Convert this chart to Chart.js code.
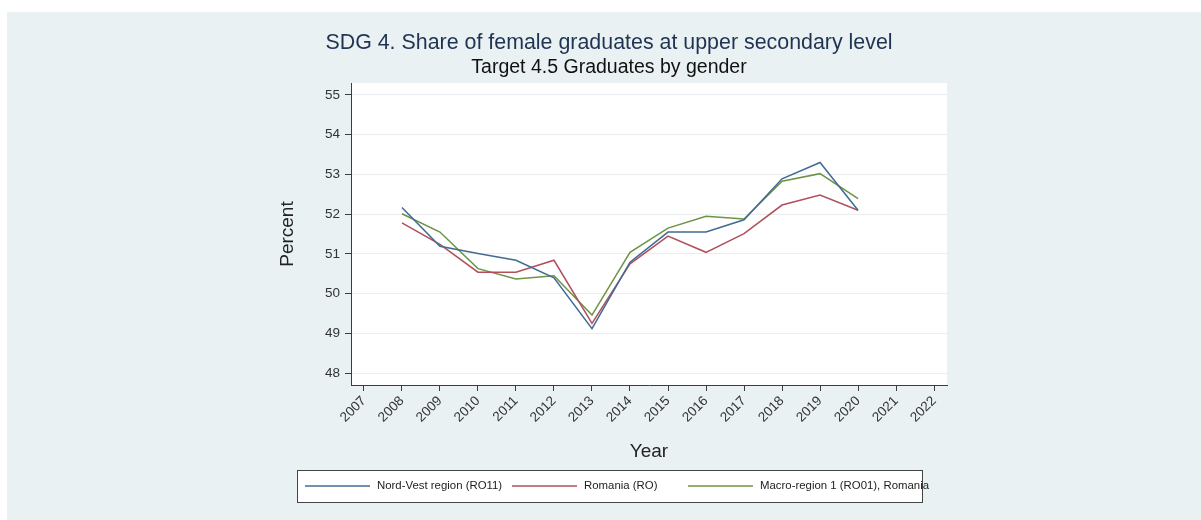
<!DOCTYPE html>
<html>
<head>
<meta charset="utf-8">
<script src="https://cdn.jsdelivr.net/npm/chart.js@4.4.1/dist/chart.umd.min.js"></script>
<style>
  html, body { margin: 0; padding: 0; background: #fff; }
  #wrap { width: 1201px; height: 520px; }
</style>
</head>
<body>
<div id="wrap"><canvas id="sdgChart" width="1201" height="520"></canvas></div>
<script>
const years = [2008, 2009, 2010, 2011, 2012, 2013, 2014, 2015, 2016, 2017, 2018, 2019, 2020];
const nordVest = [52.17, 51.19, 51.01, 50.84, 50.40, 49.12, 50.79, 51.55, 51.55, 51.86, 52.89, 53.30, 52.10];
const romania  = [51.78, 51.24, 50.54, 50.54, 50.84, 49.25, 50.75, 51.45, 51.04, 51.51, 52.23, 52.48, 52.10];
const macroReg = [52.01, 51.55, 50.63, 50.37, 50.45, 49.46, 51.04, 51.65, 51.95, 51.88, 52.83, 53.02, 52.39];
const xTicks = [2007, 2008, 2009, 2010, 2011, 2012, 2013, 2014, 2015, 2016, 2017, 2018, 2019, 2020, 2021, 2022];
const yTicks = [48, 49, 50, 51, 52, 53, 54, 55];

const FONT = "'Liberation Sans', Arial, Helvetica, sans-serif";
const axisDark = '#3c3c3c';

// background panels (outer graph region + white plot region)
const bgPlugin = {
  id: 'bg',
  beforeDraw(chart) {
    const c = chart.ctx, a = chart.chartArea;
    c.save();
    c.fillStyle = '#ffffff';
    c.fillRect(0, 0, chart.width, chart.height);
    c.fillStyle = '#e9f1f3';
    c.fillRect(7, 12, chart.width - 7, chart.height - 12);
    c.fillStyle = '#ffffff';
    c.fillRect(a.left, a.top, a.right - a.left, a.bottom - a.top);
    c.restore();
  }
};

// stata-like boxed legend under the axis title
const legendBox = {
  id: 'legendBox',
  afterDraw(chart) {
    const c = chart.ctx;
    const starts = [305, 512, 688];
    const y = 486;
    c.save();
    c.fillStyle = '#ffffff';
    c.fillRect(297, 470, 626, 33);
    c.strokeStyle = '#444';
    c.lineWidth = 1;
    c.strokeRect(297.5, 470.5, 625, 32);
    c.font = '11.4px ' + FONT;
    c.textBaseline = 'middle';
    chart.data.datasets.forEach((ds, i) => {
      const x = starts[i];
      c.strokeStyle = ds.borderColor;
      c.lineWidth = 1.5;
      c.beginPath();
      c.moveTo(x, y);
      c.lineTo(x + 65, y);
      c.stroke();
      c.fillStyle = '#222';
      c.fillText(ds.label, x + 72, y);
    });
    c.restore();
  }
};

new Chart(document.getElementById('sdgChart'), {
  type: 'line',
  data: {
    labels: years,
    datasets: [
      { label: 'Nord-Vest region (RO11)', data: nordVest, borderColor: '#416b93' },
      { label: 'Romania (RO)', data: romania, borderColor: '#b0505b' },
      { label: 'Macro-region 1 (RO01), Romania', data: macroReg, borderColor: '#6c9443' }
    ]
  },
  options: {
    responsive: false,
    animation: false,
    elements: {
      line: { borderWidth: 1.5, tension: 0, fill: false },
      point: { radius: 0, hoverRadius: 0 }
    },
    layout: { padding: { left: 271, right: 254, top: 0, bottom: 55 } },
    plugins: {
      legend: { display: false },
      tooltip: { enabled: false },
      title: {
        display: true,
        text: 'SDG 4. Share of female graduates at upper secondary level',
        color: '#1f3352',
        font: { family: FONT, size: 21.4, weight: 'normal' },
        padding: { top: 30.2, bottom: 0 }
      },
      subtitle: {
        display: true,
        text: 'Target 4.5 Graduates by gender',
        color: '#111',
        font: { family: FONT, size: 19.5, weight: 'normal' },
        padding: { top: 0, bottom: 3.8 }
      }
    },
    scales: {
      x: {
        type: 'linear',
        min: 2006.66,
        max: 2022.34,
        afterBuildTicks: s => { s.ticks = xTicks.map(v => ({ value: v })); },
        afterFit: s => { s.height = 80; },
        ticks: {
          autoSkip: false,
          minRotation: 45,
          maxRotation: 45,
          padding: 2,
          color: '#333',
          font: { family: FONT, size: 13.5 },
          callback: v => String(v)
        },
        grid: { drawOnChartArea: false, tickLength: 6, tickColor: axisDark },
        border: { color: axisDark, width: 1 },
        title: {
          display: true,
          text: 'Year',
          color: '#222',
          font: { family: FONT, size: 19 },
          padding: { top: 0, bottom: 1.5 }
        }
      },
      y: {
        min: 47.7,
        max: 55.3,
        afterBuildTicks: s => { s.ticks = yTicks.map(v => ({ value: v })); },
        afterFit: s => { s.width = 80; },
        ticks: {
          padding: 5,
          color: '#333',
          font: { family: FONT, size: 13.5 },
          callback: v => String(v)
        },
        grid: { color: '#e9edef', tickLength: 6, tickColor: axisDark },
        border: { color: axisDark, width: 1 },
        title: {
          display: true,
          text: 'Percent',
          color: '#222',
          font: { family: FONT, size: 19 },
          padding: { top: 5.8, bottom: 0 }
        }
      }
    }
  },
  plugins: [bgPlugin, legendBox]
});
</script>
</body>
</html>
